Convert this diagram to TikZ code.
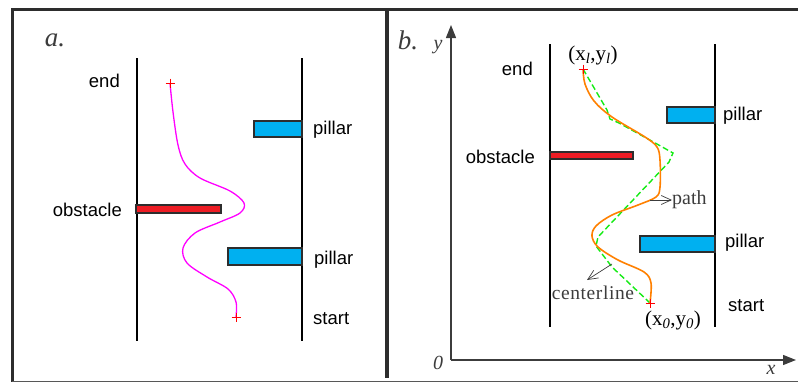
\documentclass[tikz,border=0pt]{standalone}
\usepackage{fontspec}
\setmainfont{Liberation Serif}
\setsansfont{Liberation Sans}
\usetikzlibrary{arrows.meta}
\definecolor{frame}{RGB}{45,45,45}
\definecolor{pilblue}{RGB}{0,176,240}
\definecolor{obsred}{RGB}{237,28,36}
\definecolor{orng}{RGB}{255,128,0}
\definecolor{lime}{RGB}{20,235,20}
\definecolor{magen}{RGB}{255,0,255}
\definecolor{txtgray}{RGB}{60,60,60}
\tikzset{
  lab/.style={font=\sffamily\fontsize{18.5}{20}\selectfont, inner sep=0pt},
  serlab/.style={font=\fontsize{21}{23}\selectfont, inner sep=0pt},
  panel/.style={font=\itshape\fontsize{27}{29}\selectfont, inner sep=0pt, text=txtgray},
  axlab/.style={font=\itshape\fontsize{20}{22}\selectfont, inner sep=0pt, text=txtgray},
  lane/.style={line width=2pt, black},
  pil/.style={draw=frame, line width=1.5pt, fill=pilblue, inner sep=0pt},
  obs/.style={draw=frame, line width=1.5pt, fill=obsred, inner sep=0pt},
  crossmark/.style={red, line width=0.8pt},
  pointer/.style={txtgray, line width=0.7pt, -{Straight Barb[length=10pt,width=9pt]}},
  axis/.style={txtgray, line width=1.2pt, -{Triangle[length=13pt,width=10pt]}}
}
\newcommand{\mycross}[1]{\draw[crossmark] (#1) ++(-4.5,0) -- ++(9,0) (#1) ++(0,-4.5) -- ++(0,9);}
\begin{document}
\begin{tikzpicture}[x=1pt,y=-1pt]
\useasboundingbox (0,0) rectangle (798,383);
% frame
\draw[frame, line width=3pt] (12,381.5) -- (12,9.5) -- (798,9.5);
\draw[frame, line width=3.5pt] (387,9.5) -- (387,378);
\draw[frame!80, line width=1.5pt] (12,381.5) -- (798,381.5);

% ---------------- panel a
\node[panel] (la) at (55,40) {a.};
\draw[lane] (137,58) -- (137,341);
\draw[lane] (302,58) -- (302,341);
\node[pil, minimum width=48pt, minimum height=16pt] (pa1) at (278,129) {};
\node[pil, minimum width=74pt, minimum height=17pt] (pa2) at (265,256.5) {};
\node[obs, minimum width=85pt, minimum height=8pt] (oa) at (178.5,209) {};
\node[lab, anchor=east] (enda) at (120,81) {end};
\node[lab, anchor=east] (obsa) at (122,210) {obstacle};
\node[lab, anchor=west] (pla1) at (313,130) {pillar};
\node[lab, anchor=west] (pla2) at (314,260) {pillar};
\node[lab, anchor=west] (sta) at (313,319) {start};
\coordinate (ea) at (170,83);
\coordinate (sa) at (236,317);
\draw[magen, line width=1.3pt] plot[smooth, tension=0.55] coordinates {(170,83) (173,112) (178,145) (185,164) (200,178) (230,191) (244,203) (240,213) (220,222) (195,233) (183,248) (187,263) (207,277) (228,289) (236,302) (236,317)};
\mycross{ea}
\mycross{sa}

% ---------------- panel b
\node[panel] (lb) at (408,40) {b.};
\coordinate (org) at (451,360);
\coordinate (ytip) at (451,25);
\coordinate (xtip) at (796,360);
\draw[axis] (org) -- (ytip);
\draw[axis] (org) -- (xtip);
\node[axlab] (ylab) at (438,47) {y};
\node[axlab] (zero) at (438,363) {0};
\node[axlab] (xlab) at (771,370) {x};
\draw[lane] (550,44) -- (550,327);
\draw[lane] (715,44) -- (715,327);
\node[pil, minimum width=48pt, minimum height=16pt] (pb1) at (691,115) {};
\node[pil, minimum width=75pt, minimum height=16pt] (pb2) at (677.5,244) {};
\node[obs, minimum width=83pt, minimum height=7pt] (ob) at (591.5,155.5) {};
\node[lab, anchor=east] (endb) at (533,69) {end};
\node[lab, anchor=east] (obsb) at (535,157) {obstacle};
\node[lab, anchor=west] (plb1) at (723,116) {pillar};
\node[lab, anchor=west] (plb2) at (725,243) {pillar};
\node[lab, anchor=west] (stb) at (728,306) {start};
\node[serlab] (xl) at (593,55) {(x\textsubscript{\textit{l}},y\textsubscript{\textit{l}})};
\node[serlab] (x0) at (673,320) {(x\textsubscript{\textit{0}},y\textsubscript{\textit{0}})};
\coordinate (eb) at (583,69);
\coordinate (sb) at (650,303);
\draw[lime, line width=1.4pt, dash pattern=on 6pt off 3pt] (eb) -- (607,110) -- (610,119) -- (619,123) -- (648,139) -- (673,153) -- (669,162) -- (598,237) -- (596,246) -- (612,267) -- (sb);
\draw[orng, line width=1.6pt] plot[smooth, tension=0.55] coordinates {(583,69) (585,84) (594,101) (612,117) (645,137) (657,147) (660,160) (660,187) (656,197) (638,205) (612,215) (596,226) (592,236) (598,247) (618,260) (644,272) (651,283) (650,303)};
\mycross{eb}
\mycross{sb}
\node[serlab, text=txtgray, font=\fontsize{20}{22}\selectfont, anchor=west] (pathl) at (672,200) {path};
\coordinate (pathfrom) at (650,200);
\draw[pointer] (pathfrom) -- (pathl.west);
\node[serlab, text=txtgray, font=\fontsize{19.5}{21}\selectfont\addfontfeature{LetterSpace=3}] (cl) at (593,293) {centerline};
\coordinate (clfrom) at (612,264);
\coordinate (clto) at (587,280);
\draw[pointer] (clfrom) -- (clto);
\end{tikzpicture}
\end{document}
